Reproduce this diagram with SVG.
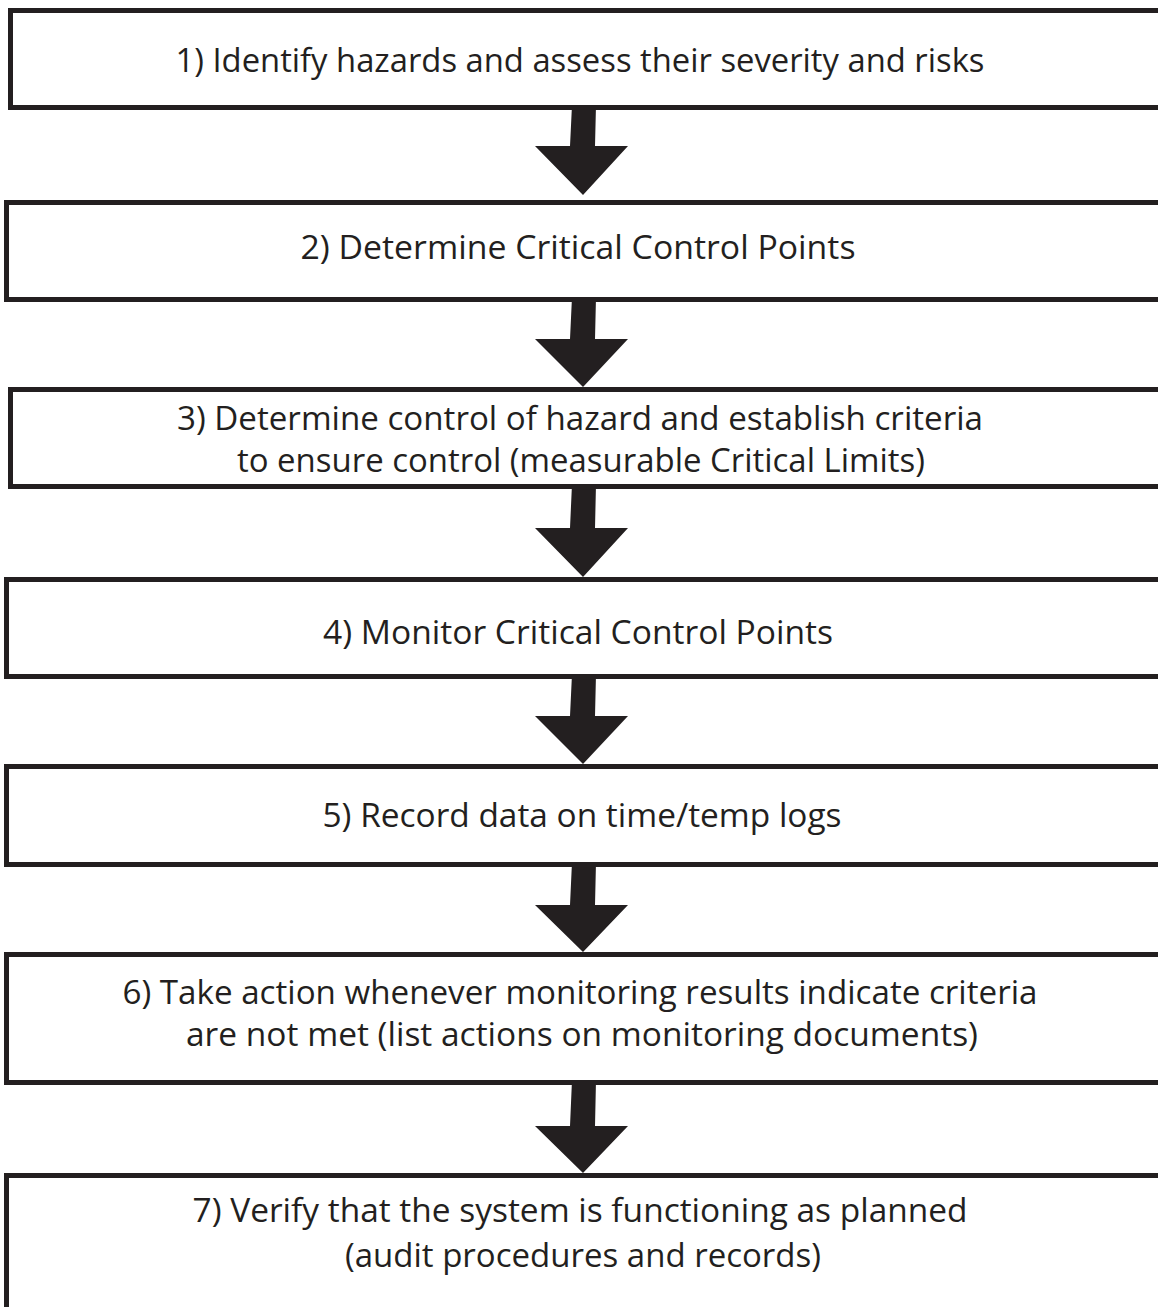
<svg xmlns="http://www.w3.org/2000/svg" width="1158" height="1307" viewBox="0 0 1158 1307">
<style>
.box{fill:#fff;stroke:#231f20;stroke-width:5}
.arr{fill:#231f20;stroke:none}
text{font-family:"Open Sans","Liberation Sans",sans-serif;font-size:33px;fill:#231f20;text-anchor:middle}
</style>
<rect width="1158" height="1307" fill="#fff"/>
<g id="connectors">
<polygon class="arr" points="572,105 596,105 595,146 628,146 583,195 535,146 570,146"/>
<polygon class="arr" points="572,297 596,297 595,339 628,339 583,387 535,339 570,339"/>
<polygon class="arr" points="572,484 596,484 595,528 628,528 583,577 535,528 570,528"/>
<polygon class="arr" points="572,674 596,674 595,716 628,716 583,764 535,716 570,716"/>
<polygon class="arr" points="572,862 596,862 595,905 628,905 583,952 535,905 570,905"/>
<polygon class="arr" points="572,1080 596,1080 595,1126 628,1126 583,1173 535,1126 570,1126"/>
</g>
<g id="n1"><rect class="box" x="10.5" y="10.5" width="1200" height="97"/>
<text x="580" y="72" textLength="809" lengthAdjust="spacingAndGlyphs">1) Identify hazards and assess their severity and risks</text></g>
<g id="n2"><rect class="box" x="6.5" y="202.5" width="1200" height="97"/>
<text x="578" y="259" textLength="555" lengthAdjust="spacingAndGlyphs">2) Determine Critical Control Points</text></g>
<g id="n3"><rect class="box" x="10.5" y="389.5" width="1200" height="97"/>
<text x="580" y="430" textLength="806" lengthAdjust="spacingAndGlyphs">3) Determine control of hazard and establish criteria</text>
<text x="581" y="472" textLength="688" lengthAdjust="spacingAndGlyphs">to ensure control (measurable Critical Limits)</text></g>
<g id="n4"><rect class="box" x="6.5" y="579.5" width="1200" height="97"/>
<text x="578" y="644" textLength="510" lengthAdjust="spacingAndGlyphs">4) Monitor Critical Control Points</text></g>
<g id="n5"><rect class="box" x="6.5" y="766.5" width="1200" height="98"/>
<text x="582" y="827" textLength="519" lengthAdjust="spacingAndGlyphs">5) Record data on time/temp logs</text></g>
<g id="n6"><rect class="box" x="6.5" y="954.5" width="1200" height="128"/>
<text x="580" y="1004" textLength="915" lengthAdjust="spacingAndGlyphs">6) Take action whenever monitoring results indicate criteria</text>
<text x="582" y="1046" textLength="792" lengthAdjust="spacingAndGlyphs">are not met (list actions on monitoring documents)</text></g>
<g id="n7"><rect class="box" x="6.5" y="1175.5" width="1200" height="200"/>
<text x="580" y="1222" textLength="775" lengthAdjust="spacingAndGlyphs">7) Verify that the system is functioning as planned</text>
<text x="583" y="1267" textLength="476" lengthAdjust="spacingAndGlyphs">(audit procedures and records)</text></g>
</svg>
